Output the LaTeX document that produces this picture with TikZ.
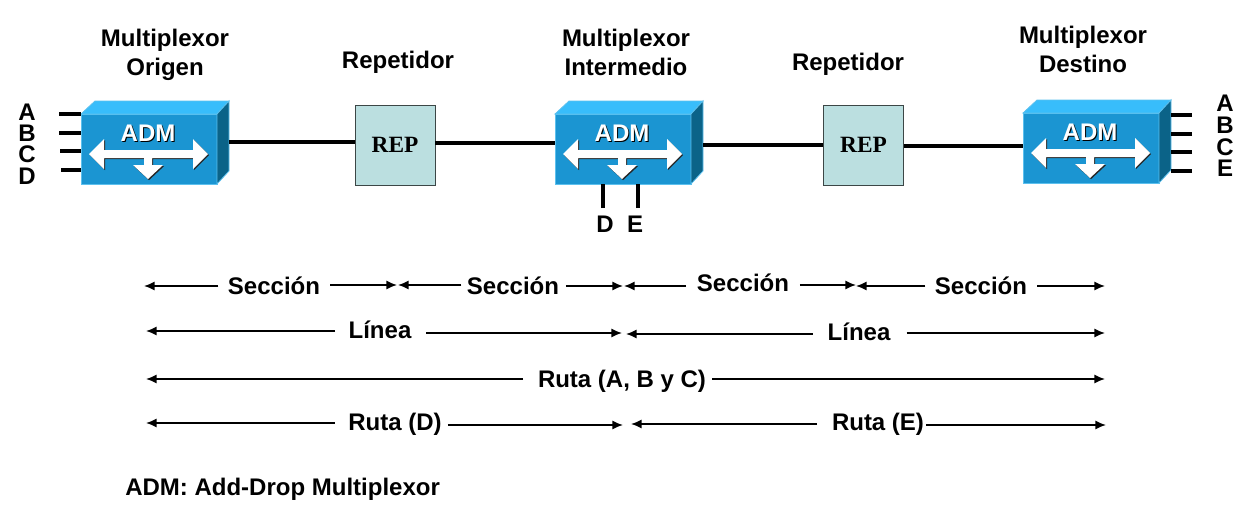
\documentclass[tikz,border=0pt]{standalone}
\usepackage{fontspec}
\setmainfont{Liberation Sans}
\newfontfamily\repfont{Liberation Serif}
\usetikzlibrary{arrows.meta}

\definecolor{admfrontcol}{RGB}{27,149,210}
\definecolor{admtopcol}{RGB}{56,189,251}
\definecolor{admsidecol}{RGB}{11,99,136}
\definecolor{admedgecol}{RGB}{92,192,238}
\definecolor{repcol}{RGB}{187,223,224}

\tikzset{
  txtbold/.style={font=\fontsize{18}{21.75}\selectfont\bfseries,inner sep=0pt,align=center},
  dimlabel/.style={txtbold,text height=13pt,text depth=2pt},
  dimline/.style={line width=1.35pt,-{Latex[length=8pt,width=7pt]}},
  link/.style={line width=2.7pt},
  repbox/.style={draw={rgb, 255:red, 60; green, 70; blue, 70},line width=0.6pt,fill=repcol,minimum size=60pt,inner sep=0pt,font=\repfont\fontsize{17.5}{20}\selectfont\bfseries},
  admbox/.pic={
    %Front, top and side faces
    \node [fill=admfrontcol,draw=admedgecol,line width=0.6pt,minimum width=102pt,minimum height=52.5pt,inner sep=0pt] (-front) at (68,35) {};
    \draw [fill=admtopcol,draw=admedgecol,line width=0.6pt] (0,0) -- (14,-13) -- (148,-13) -- (136,0) -- cycle;
    \draw [fill=admsidecol,draw=admedgecol,line width=0.6pt] (136,0) -- (148,-13) -- (148,57) -- (136,70) -- cycle;
    \coordinate (-east) at (148,0);
    %Add-drop arrow, shadow first
    \fill [black!85,shift={(1,1.2)}] (8,40) -- (23,25) -- (23,36) -- (112,36) -- (112,25) -- (127,40) -- (112,55) -- (112,44) -- (71,44) -- (71,51) -- (82,51) -- (67,65) -- (52,51) -- (63,51) -- (63,44) -- (23,44) -- (23,55) -- cycle;
    \fill [white] (8,40) -- (23,25) -- (23,36) -- (112,36) -- (112,25) -- (127,40) -- (112,55) -- (112,44) -- (71,44) -- (71,51) -- (82,51) -- (67,65) -- (52,51) -- (63,51) -- (63,44) -- (23,44) -- (23,55) -- cycle;
    % Text Node
    \node [txtbold,black] at (68,20.5) {ADM};
    \node [txtbold,white] at (67,19.5) {ADM};
  }
}

\begin{document}
\begin{tikzpicture}[x=0.75pt,y=0.75pt,yscale=-1]
\useasboundingbox (0,0) rectangle (1254,518);

%Main line, under the boxes
\coordinate (linkA) at (229,142);
\coordinate (linkB) at (435,143);
\coordinate (linkC) at (703,145);
\coordinate (linkD) at (904,146);

%Multiplexors and repeaters
\pic (adm1) [yscale=-1] at (81,114) {admbox};
\pic (adm2) [yscale=-1] at (555,114) {admbox};
\pic (adm3) [yscale=-1] at (1023,113) {admbox};
\node [repbox] (rep1) at (395,145) {REP};
\node [repbox] (rep2) at (863.5,145) {REP};

\draw [link] (linkA) -- (linkA -| rep1.west);
\draw [link] (linkB) -- (linkB -| adm2-front.west);
\draw [link] (linkC) -- (linkC -| rep2.west);
\draw [link] (linkD) -- (linkD -| adm3-front.west);

%Tributaries
\coordinate (inA) at (59,114);
\coordinate (inB) at (59,133);
\coordinate (inC) at (60,151);
\coordinate (inD) at (61,170);
\draw [link] (inA) -- (inA -| adm1-front.west);
\draw [link] (inB) -- (inB -| adm1-front.west);
\draw [link] (inC) -- (inC -| adm1-front.west);
\draw [link] (inD) -- (inD -| adm1-front.west);
\coordinate (dropD) at (603,208);
\coordinate (dropE) at (638,208);
\draw [link] (dropD) -- (dropD |- adm2-front.south);
\draw [link] (dropE) -- (dropE |- adm2-front.south);
\coordinate (outA) at (1192,115);
\coordinate (outB) at (1192,134);
\coordinate (outC) at (1192,152);
\coordinate (outE) at (1192,171);
\draw [link] (outA) -- (outA -| adm3-east);
\draw [link] (outB) -- (outB -| adm3-east);
\draw [link] (outC) -- (outC -| adm3-east);
\draw [link] (outE) -- (outE -| adm3-east);

% Text Node
\node [txtbold] (titleA) at (165,55) {Multiplexor\\Origen};
\node [txtbold] (titleB) at (398,62) {Repetidor};
\node [txtbold] (titleC) at (626,52) {Multiplexor\\Intermedio};
\node [txtbold] (titleD) at (848,64) {Repetidor};
\node [txtbold] (titleE) at (1083,49) {Multiplexor\\Destino};
% Text Node
\node [txtbold] (lblA) at (27,112) {A};
\node [txtbold] (lblB) at (27,133) {B};
\node [txtbold] (lblC) at (27,154) {C};
\node [txtbold] (lblD) at (27,176) {D};
\node [txtbold] (lblDd) at (605,224) {D};
\node [txtbold] (lblEd) at (635,224) {E};
\node [txtbold] (lblAr) at (1225,103) {A};
\node [txtbold] (lblBr) at (1225,125) {B};
\node [txtbold] (lblCr) at (1225,147) {C};
\node [txtbold] (lblEr) at (1225,168) {E};

% Text Node
\node [dimlabel] (secA) at (274,286.7) {Sección};
\node [dimlabel] (secB) at (513,286.7) {Sección};
\node [dimlabel] (secC) at (743,283.7) {Sección};
\node [dimlabel] (secD) at (981,286.7) {Sección};
\node [dimlabel] (linA) at (380,330.7) {Línea};
\node [dimlabel] (linB) at (859,332.7) {Línea};
\node [dimlabel] (rutaABC) at (622,379.7) {Ruta (A, B y C)};
\node [dimlabel] (rutaD) at (395,422.7) {Ruta (D)};
\node [dimlabel] (rutaE) at (878,422.7) {Ruta (E)};
\node [txtbold,anchor=west] (note) at (125,489) {ADM: Add-Drop Multiplexor};

%Span ends
\coordinate (secAl) at (144,286);
\coordinate (secAr) at (397,285);
\coordinate (secBl) at (398,285);
\coordinate (secBr) at (623,286);
\coordinate (secCl) at (624,286);
\coordinate (secCr) at (856,285);
\coordinate (secDl) at (856,286);
\coordinate (secDr) at (1105,286);
\coordinate (linAl) at (146,331);
\coordinate (linAr) at (622,333);
\coordinate (linBl) at (626,334);
\coordinate (linBr) at (1105,333);
\coordinate (rutaABCl) at (146,379);
\coordinate (rutaABCr) at (1105,379);
\coordinate (rutaDl) at (146,423);
\coordinate (rutaDr) at (623,425);
\coordinate (rutaEl) at (631,424);
\coordinate (rutaEr) at (1106,425);

%Span arrows
\draw [dimline,shorten <=7pt] (secA.west |- secAl) -- (secAl);
\draw [dimline,shorten <=7.5pt] (secA.east |- secAr) -- (secAr);
\draw [dimline,shorten <=4pt] (secB.west |- secBl) -- (secBl);
\draw [dimline,shorten <=5pt] (secB.east |- secBr) -- (secBr);
\draw [dimline,shorten <=8pt] (secC.west |- secCl) -- (secCl);
\draw [dimline,shorten <=8pt] (secC.east |- secCr) -- (secCr);
\draw [dimline,shorten <=7pt] (secD.west |- secDl) -- (secDl);
\draw [dimline,shorten <=7.5pt] (secD.east |- secDr) -- (secDr);
\draw [dimline,shorten <=10pt] (linA.west |- linAl) -- (linAl);
\draw [dimline,shorten <=11pt] (linA.east |- linAr) -- (linAr);
\draw [dimline,shorten <=11pt] (linB.west |- linBl) -- (linBl);
\draw [dimline,shorten <=12pt] (linB.east |- linBr) -- (linBr);
\draw [dimline,shorten <=11pt] (rutaABC.west |- rutaABCl) -- (rutaABCl);
\draw [dimline,shorten <=4.5pt] (rutaABC.east |- rutaABCr) -- (rutaABCr);
\draw [dimline,shorten <=10pt] (rutaD.west |- rutaDl) -- (rutaDl);
\draw [dimline,shorten <=4.5pt] (rutaD.east |- rutaDr) -- (rutaDr);
\draw [dimline,shorten <=11pt] (rutaE.west |- rutaEl) -- (rutaEl);
\draw [dimline,shorten <=1.5pt] (rutaE.east |- rutaEr) -- (rutaEr);

\end{tikzpicture}
\end{document}
